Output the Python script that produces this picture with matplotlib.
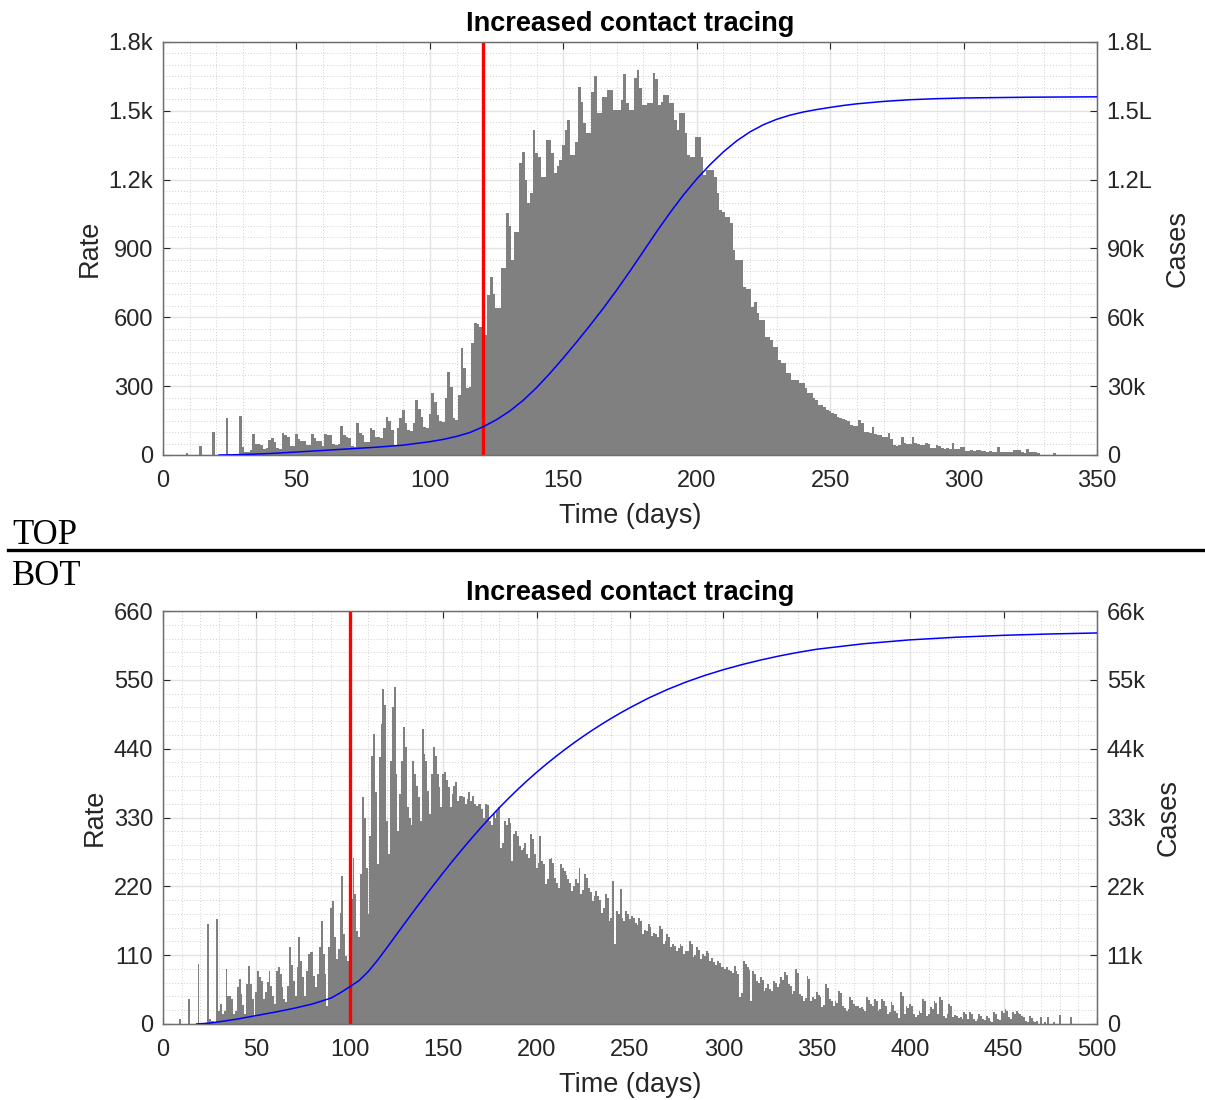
import matplotlib
matplotlib.use("Agg")
import matplotlib.pyplot as plt
from matplotlib.lines import Line2D

plt.rcParams['font.family'] = ['Liberation Sans', 'DejaVu Sans']

# Top panel: daily rate (days 0..350)
top_rate = [
    0, 0, 0, 0, 0, 0, 0, 0, 0, 10,
    0, 0, 0, 0, 41, 0, 0, 0, 0, 99,
    0, 0, 0, 2, 163, 3, 2, 2, 3, 170,
    36, 15, 12, 20, 92, 50, 46, 44, 28, 30,
    65, 75, 58, 30, 28, 97, 85, 77, 40, 38,
    92, 70, 62, 60, 44, 42, 90, 75, 62, 60,
    40, 92, 88, 87, 50, 44, 46, 126, 85, 80,
    75, 38, 36, 138, 95, 87, 58, 55, 116, 110,
    80, 78, 75, 116, 167, 150, 110, 44, 116, 160,
    196, 140, 109, 105, 138, 240, 200, 167, 120, 116,
    180, 269, 230, 174, 150, 145, 250, 363, 298, 160,
    153, 261, 465, 380, 290, 298, 487, 577, 570, 559,
    520, 523, 697, 776, 700, 639, 639, 814, 814, 1053,
    1000, 850, 973, 973, 1271, 1321, 1200, 1097, 1141, 1417,
    1315, 1300, 1213, 1213, 1373, 1373, 1315, 1228, 1260, 1286,
    1350, 1417, 1460, 1308, 1308, 1366, 1605, 1540, 1446, 1402,
    1402, 1584, 1650, 1489, 1489, 1562, 1562, 1591, 1591, 1504,
    1504, 1504, 1547, 1660, 1533, 1504, 1504, 1645, 1680, 1600,
    1526, 1526, 1533, 1533, 1665, 1640, 1526, 1540, 1570, 1570,
    1533, 1533, 1460, 1417, 1489, 1489, 1402, 1308, 1300, 1300,
    1387, 1387, 1300, 1220, 1242, 1242, 1242, 1213, 1141, 1068,
    1061, 1039, 1039, 1010, 894, 850, 850, 850, 734, 725,
    725, 647, 667, 617, 588, 588, 516, 516, 500, 472,
    472, 414, 400, 400, 356, 356, 327, 327, 327, 314,
    314, 290, 269, 269, 247, 240, 218, 220, 210, 196,
    190, 182, 180, 165, 160, 158, 153, 150, 131, 128,
    125, 153, 140, 102, 100, 98, 124, 90, 87, 85,
    80, 80, 94, 70, 44, 40, 44, 80, 51, 50,
    48, 80, 51, 50, 44, 44, 51, 50, 29, 30,
    44, 40, 29, 28, 30, 26, 51, 25, 24, 33,
    33, 19, 18, 20, 19, 22, 21, 19, 18, 15,
    16, 15, 14, 36, 15, 14, 15, 14, 13, 22,
    20, 22, 12, 10, 25, 15, 14, 12, 10, 0,
    0, 0, 0, 0, 10, 0, 0, 0, 0, 0,
    0, 0, 0, 0, 0, 0, 0, 0, 0, 0, 0,
]

# Top panel: cumulative cases
top_cum_days = [21, 25, 30, 40, 50, 60, 70, 80, 90, 100, 105, 110, 115, 120,
                125, 130, 135, 140, 145, 150, 155, 160, 165, 170, 175, 180, 185,
                190, 195, 200, 205, 210, 215, 220, 225, 230, 235, 240, 245, 250,
                255, 260, 270, 280, 290, 300, 325, 350]
top_cum = [0, 60, 200, 650, 1300, 2000, 2700, 3400, 4300, 5800, 6800, 8100,
           9800, 12300, 15400, 19200, 23850, 29375, 35600, 42275, 49250, 56475,
           63975, 71850, 80150, 88750, 97350, 105600, 113300, 120300, 126550,
           132125, 136925, 140850, 143950, 146325, 148125, 149500, 150575,
           151500, 152350, 153050, 154100, 154850, 155300, 155600, 155950, 156100]

# Bottom panel: daily rate (days 0..500)
bot_rate = [
    0, 0, 0, 0, 0, 0, 0, 0, 0, 8,
    0, 0, 0, 0, 40, 0, 0, 0, 0, 96,
    0, 0, 0, 0, 160, 8, 4, 4, 3, 168,
    20, 32, 16, 20, 88, 45, 45, 40, 16, 20,
    59, 72, 48, 30, 16, 64, 93, 64, 40, 11,
    51, 85, 75, 69, 40, 51, 67, 85, 61, 45,
    32, 85, 91, 80, 59, 40, 35, 61, 123, 95,
    69, 45, 91, 139, 100, 75, 45, 85, 112, 115,
    115, 77, 59, 80, 123, 165, 112, 80, 29, 123,
    186, 197, 139, 104, 120, 178, 237, 144, 109, 100,
    106, 200, 266, 208, 149, 139, 240, 362, 330, 250,
    176, 300, 429, 463, 370, 256, 426, 480, 535, 509,
    325, 272, 421, 506, 538, 400, 309, 368, 420, 474,
    442, 346, 330, 318, 421, 400, 380, 362, 325, 471,
    431, 421, 373, 336, 400, 442, 429, 400, 378, 346,
    400, 402, 390, 378, 346, 368, 380, 386, 357, 365,
    365, 362, 352, 360, 370, 357, 365, 352, 349, 352,
    352, 344, 330, 352, 350, 325, 318, 336, 330, 340,
    346, 282, 290, 325, 318, 330, 322, 261, 304, 309,
    300, 285, 278, 282, 290, 272, 265, 304, 296, 272,
    250, 258, 301, 261, 255, 224, 232, 264, 266, 258,
    234, 226, 218, 256, 250, 245, 238, 232, 226, 213,
    220, 232, 226, 250, 208, 214, 240, 233, 218, 211,
    197, 204, 213, 205, 198, 178, 185, 208, 201, 165,
    170, 229, 128, 181, 176, 216, 170, 165, 181, 176,
    168, 172, 170, 162, 158, 170, 165, 144, 150, 149,
    160, 155, 141, 146, 144, 139, 157, 152, 128, 133,
    144, 139, 123, 128, 125, 117, 121, 128, 124, 112,
    116, 117, 133, 128, 107, 111, 123, 119, 104, 112,
    108, 117, 113, 101, 105, 99, 95, 101, 97, 91,
    91, 88, 91, 87, 85, 82, 93, 85, 80, 43,
    50, 101, 96, 91, 86, 37, 85, 80, 69, 65,
    75, 71, 53, 57, 64, 56, 52, 69, 65, 59,
    64, 75, 71, 83, 78, 64, 60, 48, 52, 88,
    82, 48, 44, 37, 41, 77, 72, 37, 43, 40,
    51, 47, 43, 27, 31, 64, 58, 40, 36, 29,
    37, 34, 53, 49, 29, 26, 21, 24, 43, 39,
    32, 29, 29, 26, 27, 24, 21, 43, 39, 32,
    29, 40, 36, 21, 24, 40, 36, 29, 16, 19,
    35, 31, 21, 18, 10, 51, 45, 16, 29, 26,
    32, 28, 16, 11, 14, 21, 18, 40, 36, 13,
    16, 27, 24, 37, 33, 16, 43, 39, 13, 10,
    16, 32, 28, 11, 14, 13, 10, 11, 8, 19,
    16, 8, 19, 16, 8, 5, 8, 16, 13, 8,
    6, 13, 10, 5, 3, 19, 16, 8, 6, 21,
    18, 24, 20, 11, 8, 19, 16, 21, 18, 16,
    13, 11, 5, 3, 13, 10, 4, 3, 4, 0,
    11, 0, 3, 0, 11, 0, 0, 3, 0, 0,
    14, 0, 0, 0, 0, 0, 11, 0, 0, 0,
    0, 0, 0, 0, 0, 0, 0, 0, 0, 0, 0,
]

# Bottom panel: cumulative cases
bot_cum_days = [18, 25, 30, 40, 50, 60, 70, 80, 90, 95, 100, 105, 110, 115,
                120, 125, 130, 135, 140, 145, 150, 155, 160, 165, 170, 175, 180,
                185, 190, 195, 200, 205, 210, 215, 220, 225, 230, 235, 240, 245,
                250, 260, 270, 280, 290, 300, 310, 320, 330, 340, 350, 375, 400,
                425, 450, 475, 500]
bot_cum = [0, 150, 350, 800, 1350, 1900, 2500, 3200, 4150, 5000, 5950, 6950,
           8420, 10245, 12245, 14295, 16330, 18345, 20325, 22265, 24175, 26040,
           27855, 29615, 31320, 32965, 34550, 36065, 37515, 38900, 40220, 41480,
           42680, 43830, 44930, 45980, 46985, 47940, 48855, 49725, 50550, 52100,
           53450, 54650, 55700, 56620, 57440, 58170, 58820, 59390, 59890, 60765,
           61390, 61815, 62115, 62330, 62490]

top_left_ticks = [0, 300, 600, 900, 1200, 1500, 1800]
top_left_labels = ['0', '300', '600', '900', '1.2k', '1.5k', '1.8k']
top_right_ticks = [0, 30000, 60000, 90000, 120000, 150000, 180000]
top_right_labels = ['0', '30k', '60k', '90k', '1.2L', '1.5L', '1.8L']
bot_left_ticks = [0, 110, 220, 330, 440, 550, 660]
bot_left_labels = ['0', '110', '220', '330', '440', '550', '660']
bot_right_ticks = [0, 11000, 22000, 33000, 44000, 55000, 66000]
bot_right_labels = ['0', '11k', '22k', '33k', '44k', '55k', '66k']

TXT = '#262626'
W, H = 1205, 1100


def panel(rect, rate, cum_days, cum, xmax, xminor, ymax, yminor,
          lticks, llabels, rticks, rlabels, cmax, tracing_day, rlabelpad):
    ax = fig.add_axes(rect)
    ax.bar(range(len(rate)), rate, width=1.0, color='#808080', linewidth=0, zorder=2)
    ax.axvline(tracing_day, color='red', lw=2.4, zorder=4)
    ax.set_xlim(0, xmax)
    ax.set_ylim(0, ymax)
    ax.set_xticks(range(0, xmax + 1, 50))
    ax.set_xticks(range(0, xmax + 1, xminor), minor=True)
    ax.set_yticks(lticks, llabels)
    ax.set_yticks(list(range(0, ymax + 1, yminor)), minor=True)
    ax.set_axisbelow(True)
    ax.grid(which='major', color='#e3e3e3', lw=1.0)
    ax.grid(which='minor', color='#d0d0d0', lw=0.7, linestyle=(0, (1, 2)))
    ax.tick_params(which='major', direction='in', length=5, top=True, right=False,
                   labelsize=17, colors=TXT, pad=7, width=0.8)
    ax.tick_params(axis='x', which='major', pad=11)
    ax.tick_params(which='minor', length=0)
    for s in ax.spines.values():
        s.set_color('#6e6e6e')
        s.set_linewidth(0.9)
    ax.set_xlabel('Time (days)', fontsize=19.5, color=TXT, labelpad=8)
    ax.set_ylabel('Rate', fontsize=19.5, color=TXT, labelpad=4)
    ax.set_title('Increased contact tracing', fontsize=19.5, fontweight='bold', pad=8)

    ax2 = ax.twinx()
    ax2.plot(cum_days, cum, color='blue', lw=1.1, zorder=3)
    ax2.set_ylim(0, cmax)
    ax2.set_yticks(rticks, rlabels)
    ax2.tick_params(direction='in', length=5, labelsize=17, colors=TXT, pad=7, width=0.8)
    for s in ax2.spines.values():
        s.set_color('#6e6e6e')
        s.set_linewidth(0.9)
    ax2.set_ylabel('Cases', fontsize=19.5, color=TXT, labelpad=rlabelpad)
    return ax, ax2


fig = plt.figure(figsize=(W / 100, H / 100), dpi=100)

top_rect = [163 / W, 1 - 455 / H, 934 / W, 413 / H]
bot_rect = [163 / W, 1 - 1024 / H, 934 / W, 413 / H]

panel(top_rect, top_rate, top_cum_days, top_cum, 350, 10, 1800, 50,
      top_left_ticks, top_left_labels, top_right_ticks, top_right_labels,
      180000, 120, 9)
panel(bot_rect, bot_rate, bot_cum_days, bot_cum, 500, 10, 660, 22,
      bot_left_ticks, bot_left_labels, bot_right_ticks, bot_right_labels,
      66000, 100, 7.5)

# TOP / BOT separator
fig.text(12 / W, 1 - 544 / H, 'TOP', fontsize=25, family='Liberation Serif', va='baseline')
fig.text(12 / W, 1 - 585 / H, 'BOT', fontsize=25, family='Liberation Serif', va='baseline')
fig.add_artist(Line2D([8 / W, 1], [1 - 550 / H, 1 - 550 / H], color='black', lw=2.4))

fig.savefig('out.png', dpi=100)
